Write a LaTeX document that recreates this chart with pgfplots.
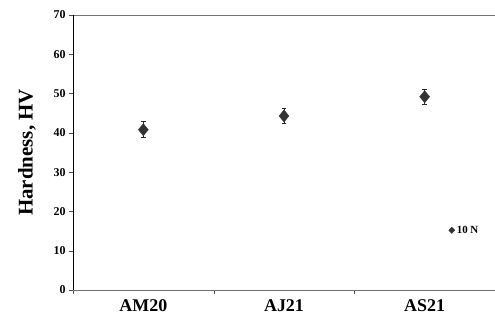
\documentclass[border=0pt]{standalone}
\usepackage{pgfplots}
\pgfplotsset{compat=1.18}
\usepackage{fontspec}
\setmainfont{Liberation Serif}
\definecolor{mk}{HTML}{333333}
\begin{document}
\begin{tikzpicture}
\useasboundingbox (-73bp,-30bp) rectangle (422bp,290bp);
\begin{axis}[
  at={(0,0)}, anchor=south west,
  scale only axis, width=422bp, height=275bp,
  xmin=0, xmax=3, ymin=0, ymax=70,
  xtick={0.5,1.5,2.5},
  xticklabels={AM20,AJ21,AS21},
  minor xtick={0,1,2,3},
  ytick={0,10,...,70},
  major x tick style={draw=none},
  minor tick length=4bp,
  major tick length=4bp,
  tick align=outside,
  xtick pos=bottom, ytick pos=left,
  axis line style={draw=black!55},
  tick style={black!70},
  every x tick label/.style={font=\fontsize{18}{18}\selectfont\bfseries, yshift=-2bp},
  every y tick label/.style={font=\fontsize{12}{12}\selectfont\bfseries},
  /pgf/number format/assume math mode=true,
  ylabel={Hardness, HV},
  ylabel style={font=\fontsize{21}{21}\selectfont\bfseries, at={(axis description cs:-0.109,0.5)}, anchor=center},
  legend style={draw=none, fill=none, at={(axis cs:2.67,15.2)}, anchor=west, inner sep=0pt,
    font=\fontsize{11}{11}\selectfont\bfseries},
  legend image code/.code={\draw[mk, fill=mk, mark=diamond*, mark size=3.2bp, mark options={xscale=1.25}] plot coordinates {(0.1cm,0cm)};},
  legend cell align=left,
]
\draw[black] (axis cs:0,0) -- (axis cs:0,70);
\addplot[only marks, mark=diamond*, mark size=5.5bp, mk,
  mark options={fill=mk, draw=mk, xscale=1.2, yscale=1.1},
  error bars/.cd, y dir=both, y explicit,
  error bar style={black!85, line width=0.8pt},
  error mark options={rotate=90, mark size=2.2bp, black!85, line width=0.8pt}]
  coordinates {
  (0.5,40.8) +- (0,2.0)
  (1.5,44.3) +- (0,1.9)
  (2.5,49.2) +- (0,1.9)
};
\addlegendentry{10 N}
\end{axis}
\end{tikzpicture}
\end{document}
